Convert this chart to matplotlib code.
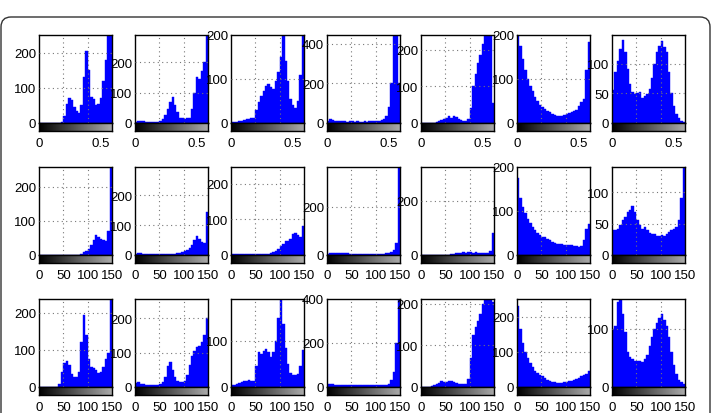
import numpy as np
import matplotlib
matplotlib.use("Agg")
import matplotlib.pyplot as plt
from matplotlib.patches import FancyBboxPatch

plt.rcParams['font.family'] = ['Liberation Sans', 'DejaVu Sans']

# bin edges shared by all histograms (5-wide bins over 0..150)
bin_edges = np.arange(0, 151, 5)

# row 1
r1_p1 = [0, 0, 0, 0, 0, 0, 0, 0, 0, 3, 20, 55, 72, 65, 45, 35, 28, 50, 130, 205,
         150, 75, 68, 52, 55, 70, 120, 180, 250, 250]
r1_p2 = [2, 6, 8, 5, 3, 2, 3, 2, 3, 4, 6, 12, 25, 45, 70, 85, 60, 35, 18, 15,
         14, 15, 18, 45, 100, 150, 145, 170, 200, 290]
r1_p3 = [2, 3, 3, 4, 5, 7, 10, 10, 11, 12, 30, 48, 62, 72, 85, 88, 82, 78, 95, 115,
         150, 200, 140, 95, 55, 40, 35, 50, 110, 200]
r1_p4 = [10, 18, 15, 12, 10, 8, 10, 8, 7, 8, 8, 7, 8, 7, 7, 8, 7, 8, 8, 9,
         10, 12, 14, 20, 35, 80, 200, 445, 445, 200]
r1_p5 = [0, 0, 0, 0, 0, 0, 2, 5, 8, 12, 15, 18, 15, 20, 16, 12, 8, 6, 5, 10,
         40, 100, 135, 165, 185, 215, 240, 240, 240, 55]
r1_p6 = [200, 175, 145, 120, 100, 85, 72, 60, 50, 42, 37, 32, 28, 24, 20, 18, 17, 16, 17, 18,
         20, 22, 24, 27, 30, 38, 48, 55, 120, 185]
r1_p7 = [55, 85, 105, 125, 140, 120, 90, 65, 52, 48, 50, 52, 42, 45, 48, 58, 75, 100, 120, 130,
         138, 128, 120, 85, 50, 28, 15, 8, 4, 2]

# row 2
r2_p1 = [0, 0, 0, 0, 0, 0, 0, 0, 0, 0, 0, 0, 0, 0, 0, 0, 0, 2, 8, 12,
         18, 28, 45, 58, 52, 48, 45, 42, 70, 258]
r2_p2 = [3, 6, 6, 5, 4, 3, 2, 2, 2, 3, 2, 2, 3, 3, 3, 4, 5, 6, 8, 10,
         14, 18, 25, 35, 50, 65, 55, 45, 40, 145]
r2_p3 = [2, 3, 3, 3, 3, 3, 3, 3, 4, 4, 3, 4, 4, 3, 4, 4, 5, 8, 12, 18,
         25, 32, 40, 38, 45, 58, 62, 55, 50, 80]
r2_p4 = [6, 8, 8, 7, 7, 8, 10, 9, 8, 6, 5, 5, 5, 5, 5, 5, 4, 5, 5, 5,
         5, 5, 5, 6, 7, 8, 12, 20, 50, 363]
r2_p5 = [0, 0, 0, 0, 0, 0, 0, 0, 0, 0, 0, 0, 2, 5, 7, 8, 9, 10, 9, 10,
         11, 9, 10, 8, 9, 7, 6, 6, 15, 80]
r2_p6 = [175, 130, 110, 95, 82, 72, 64, 56, 50, 45, 42, 40, 37, 33, 30, 28, 26, 24, 24, 23,
         22, 22, 22, 21, 20, 18, 20, 35, 60, 70]
r2_p7 = [40, 40, 42, 48, 55, 60, 68, 72, 78, 68, 55, 48, 42, 45, 40, 35, 33, 34, 30, 31,
         32, 30, 33, 36, 40, 42, 45, 55, 90, 140]

# row 3
r3_p1 = [0, 0, 0, 0, 0, 0, 0, 0, 8, 40, 65, 70, 58, 35, 28, 28, 40, 120, 195, 140,
         75, 55, 52, 45, 38, 40, 55, 75, 92, 237]
r3_p2 = [12, 15, 10, 8, 6, 5, 5, 5, 5, 6, 8, 15, 30, 62, 72, 50, 28, 18, 15, 15,
         18, 35, 65, 90, 105, 115, 118, 130, 150, 200]
r3_p3 = [4, 5, 6, 8, 10, 12, 14, 15, 13, 12, 45, 75, 72, 78, 82, 75, 65, 75, 100, 150,
         190, 135, 85, 50, 30, 25, 25, 28, 45, 80]
r3_p4 = [12, 14, 12, 10, 8, 8, 7, 8, 8, 7, 7, 9, 8, 7, 8, 7, 7, 8, 7, 7,
         8, 8, 8, 9, 10, 15, 30, 70, 200, 400]
r3_p5 = [0, 0, 0, 0, 2, 4, 7, 10, 15, 13, 12, 15, 14, 12, 10, 8, 7, 8, 8, 20,
         70, 125, 145, 160, 175, 200, 212, 212, 212, 205]
r3_p6 = [230, 165, 125, 100, 82, 68, 56, 47, 40, 34, 30, 25, 21, 18, 15, 14, 12, 12, 12, 13,
         14, 16, 18, 20, 23, 27, 30, 34, 38, 45]
r3_p7 = [100, 105, 145, 150, 125, 95, 60, 52, 48, 45, 45, 45, 43, 48, 55, 70, 85, 100, 110, 118,
         125, 115, 105, 85, 60, 38, 22, 12, 8, 5]

rows = [
    [r1_p1, r1_p2, r1_p3, r1_p4, r1_p5, r1_p6, r1_p7],
    [r2_p1, r2_p2, r2_p3, r2_p4, r2_p5, r2_p6, r2_p7],
    [r3_p1, r3_p2, r3_p3, r3_p4, r3_p5, r3_p6, r3_p7],
]

# y axis limits / ticks per panel
y_max = [
    [250, 290, 200, 445, 240, 200, 148],
    [258, 295, 247, 363, 324, 200, 140],
    [237, 256, 190, 400, 212, 251, 151],
]
y_ticks = [
    [[0, 100, 200], [0, 100, 200], [0, 100, 200], [0, 200, 400], [0, 100, 200], [0, 100, 200], [0, 50, 100]],
    [[0, 100, 200], [0, 100, 200], [0, 100, 200], [0, 200], [0, 200], [0, 100, 200], [0, 50, 100]],
    [[0, 100, 200], [0, 100, 200], [0, 100], [0, 200, 400], [0, 100, 200], [0, 100, 200], [0, 100]],
]

# x labels under the grey bar
bar_xmax = [150 / 255, 150, 150]
bar_xticks = [[0, 0.5], [0, 50, 100, 150], [0, 50, 100, 150]]
bar_xlabels = [['0', '0.5'], ['0', '50', '100', '150'], ['0', '50', '100', '150']]

W, H = 711, 414
fig = plt.figure(figsize=(W / 100, H / 100), dpi=100)

col_left = [39, 135, 231, 327, 421, 517, 612]
row_top = [36, 168, 300]
ax_w, hist_h, bar_h = 73, 88, 8

# rounded page frame
frame = FancyBboxPatch((0.01, -0.3), 7.09, 4.14 - 0.18 + 0.3,
                       boxstyle="round,pad=0,rounding_size=0.1",
                       transform=fig.dpi_scale_trans, fill=False,
                       edgecolor='#333333', linewidth=1.0)
fig.patches.append(frame)

grad = np.linspace(0, 1, 256)[None, :]
grid_kw = dict(color='#777777', linestyle=(0, (1, 3)), linewidth=0.8)

for r in range(3):
    for c in range(7):
        x0 = col_left[c] / W
        top = row_top[r]
        ax = fig.add_axes([x0, 1 - (top + hist_h) / H, ax_w / W, hist_h / H])
        ax.bar(bin_edges[:-1], rows[r][c], width=5, align='edge',
               color='#0000ff', edgecolor='#0000ff', linewidth=0.3)
        ax.set_xlim(0, 150)
        ax.set_ylim(0, y_max[r][c])
        ax.set_xticks([50, 100])
        ax.set_xticklabels([])
        ax.set_yticks(y_ticks[r][c])
        ax.tick_params(axis='both', length=0, labelsize=9.5, pad=2)
        for t in y_ticks[r][c]:
            if 0 < t < y_max[r][c]:
                ax.axhline(t, **grid_kw, zorder=3)
        for t in [50, 100]:
            ax.axvline(t, **grid_kw, zorder=3)
        for s in ax.spines.values():
            s.set_linewidth(1.0)

        bx = fig.add_axes([x0, 1 - (top + hist_h + bar_h) / H, ax_w / W, bar_h / H])
        bx.imshow(grad, cmap='gray', vmin=0, vmax=1.5, aspect='auto',
                  extent=[0, bar_xmax[r], 0, 1])
        bx.set_xlim(0, bar_xmax[r])
        bx.set_yticks([])
        bx.set_xticks(bar_xticks[r])
        bx.set_xticklabels(bar_xlabels[r])
        bx.tick_params(axis='x', length=0, labelsize=9.5, pad=4)
        for s in bx.spines.values():
            s.set_linewidth(1.0)

fig.savefig('out.png', dpi=100)
